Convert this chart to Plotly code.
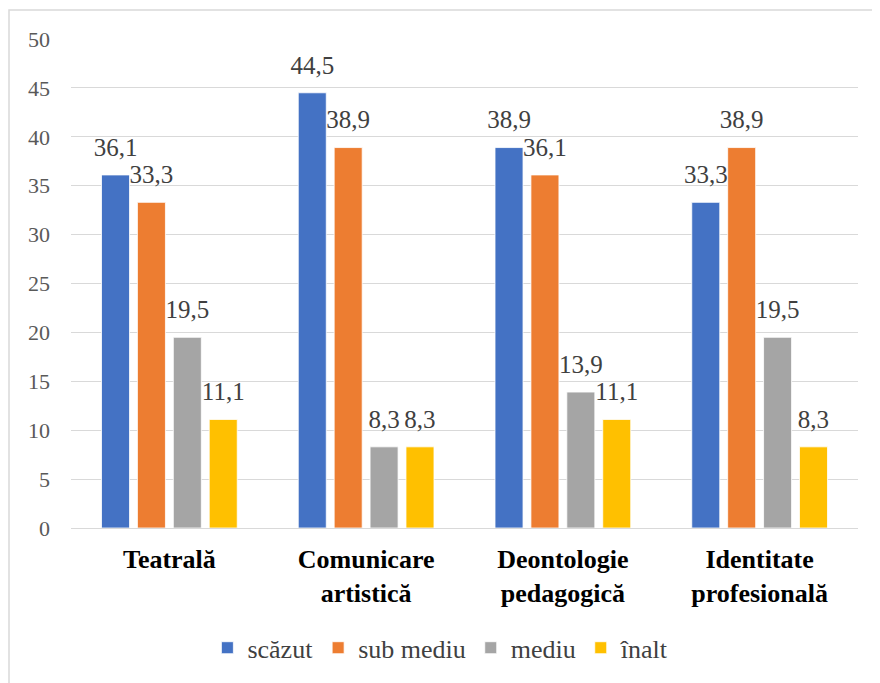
import plotly.graph_objects as go

categories = ["<b>Teatrală</b>", "<b>Comunicare<br>artistică</b>", "<b>Deontologie<br>pedagogică</b>", "<b>Identitate<br>profesională</b>"]
series_names = ["scăzut", "sub mediu", "mediu", "înalt"]
scazut = [36.1, 44.5, 38.9, 33.3]
sub_mediu = [33.3, 38.9, 36.1, 38.9]
mediu = [19.5, 8.3, 13.9, 19.5]
inalt = [11.1, 8.3, 11.1, 8.3]
colors = ["#4472C4", "#ED7D31", "#A5A5A5", "#FFC000"]
y_ticks = [0, 5, 10, 15, 20, 25, 30, 35, 40, 45, 50]

SERIF = "Liberation Serif, Times New Roman, serif"

fig = go.Figure()
for i, (name, vals, col) in enumerate(zip(series_names, [scazut, sub_mediu, mediu, inalt], colors)):
    fig.add_trace(go.Bar(
        x=categories, y=vals, name=name, offsetgroup=str(i),
        marker=dict(color=col, line=dict(color="white", width=0.8)),
    ))
for i, vals in enumerate([scazut, sub_mediu, mediu, inalt]):
    fig.add_trace(go.Scatter(
        x=categories, y=vals, mode="markers+text", offsetgroup=str(i),
        marker=dict(size=19, opacity=0), showlegend=False, hoverinfo="skip",
        text=[f"{v:.1f}".replace(".", ",") for v in vals],
        textposition="top center", cliponaxis=False,
        textfont=dict(family=SERIF, size=25, color="#404040"),
    ))

W, H = 872, 675
L, T = 63, 31
R = W - 850
B = H - 520
pw, ph = W - L - R, H - T - B

fig.update_layout(
    width=W, height=H,
    margin=dict(l=L, r=R, t=T, b=B),
    paper_bgcolor="white", plot_bgcolor="white",
    barmode="group", bargap=0.27, bargroupgap=0.22,
    scattermode="group", scattergap=0.27,
    font=dict(family=SERIF, color="#595959"),
    showlegend=True,
    legend=dict(orientation="h", x=0.47, xanchor="center", y=-0.245, yanchor="middle",
                font=dict(family=SERIF, size=26, color="#404040"),
                itemwidth=30, tracegroupgap=0, traceorder="normal"),
    xaxis=dict(showgrid=False, showline=False, ticks="", ticklabelstandoff=13,
               tickfont=dict(family=SERIF, size=26, color="#000000")),
    yaxis=dict(range=[0, 50], tickvals=y_ticks, showgrid=True, gridcolor="#D9D9D9", gridwidth=1.3,
               zeroline=True, zerolinecolor="#D9D9D9", zerolinewidth=1.3,
               showline=False, ticks="", ticklabelstandoff=20,
               tickfont=dict(family=SERIF, size=22, color="#595959")),
    shapes=[dict(type="rect", xref="paper", yref="paper",
                 x0=(1 - L) / pw, x1=(W + 20 - L) / pw,
                 y0=-(H + 20 - (T + ph)) / ph, y1=(T + ph - 2) / ph,
                 line=dict(color="#D9D9D9", width=1.5), fillcolor="rgba(0,0,0,0)", layer="below")],
)

fig.write_html("out.html")
